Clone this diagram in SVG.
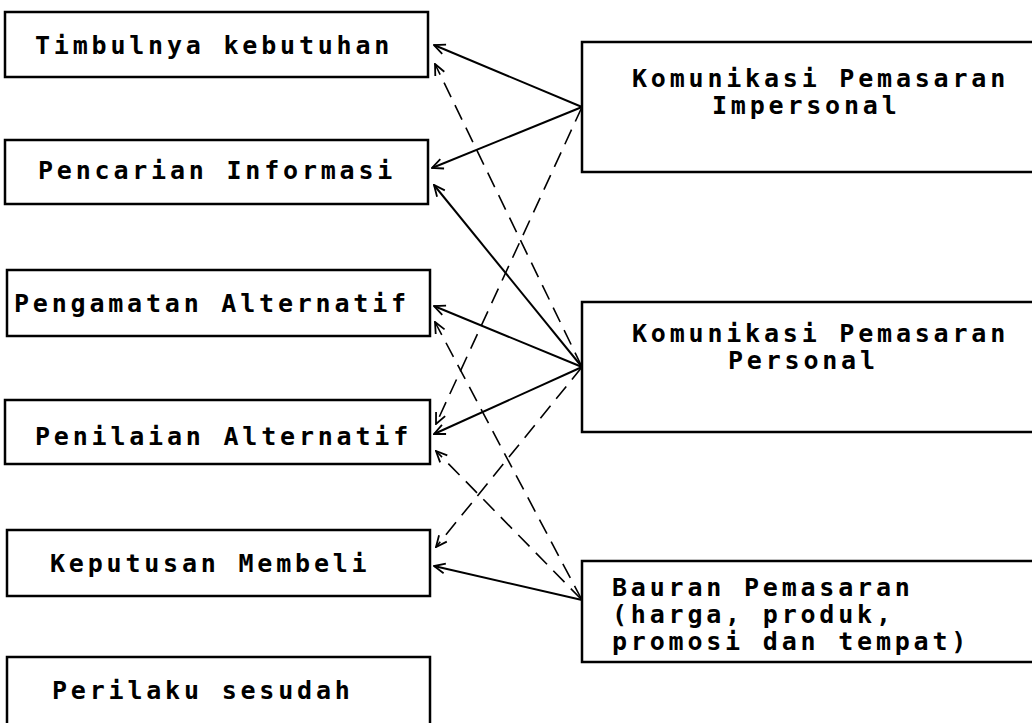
<svg xmlns="http://www.w3.org/2000/svg" width="1032" height="723" viewBox="0 0 1032 723">
<style>
.box{fill:#fff;stroke:#000;stroke-width:2.5}
.t{font-family:"DejaVu Sans Mono","Liberation Mono",monospace;font-size:25px;font-weight:bold;letter-spacing:3.8px;fill:#000}
.s{fill:none;stroke:#000;stroke-width:2}
.d{fill:none;stroke:#000;stroke-width:1.6;stroke-dasharray:16 9}
</style>
<defs>
<marker id="ah" markerUnits="userSpaceOnUse" markerWidth="14" markerHeight="14" viewBox="0 0 14 14" refX="13" refY="7" orient="auto">
<path d="M2,2 L13,7 L2,12" fill="none" stroke="#000" stroke-width="1.8"/>
</marker>
</defs>
<rect width="1032" height="723" fill="#fff"/>
<g id="n1"><rect class="box" x="5" y="12" width="423" height="65"/><text class="t" x="35" y="54">Timbulnya kebutuhan</text></g>
<g id="n2"><rect class="box" x="5" y="140" width="423" height="64"/><text class="t" x="38" y="179">Pencarian Informasi</text></g>
<g id="n3"><rect class="box" x="7" y="270" width="423" height="66"/><text class="t" x="14" y="312">Pengamatan Alternatif</text></g>
<g id="n4"><rect class="box" x="5" y="400" width="425" height="64"/><text class="t" x="35" y="445">Penilaian Alternatif</text></g>
<g id="n5"><rect class="box" x="7" y="530" width="423" height="66"/><text class="t" x="50" y="572">Keputusan Membeli</text></g>
<g id="n6"><rect class="box" x="7" y="657" width="423" height="90"/><text class="t" x="52" y="699">Perilaku sesudah</text></g>
<g id="r1"><rect class="box" x="582" y="42" width="470" height="130"/><text class="t" x="632" y="87">Komunikasi Pemasaran</text><text class="t" x="712" y="114">Impersonal</text></g>
<g id="r2"><rect class="box" x="582" y="302" width="470" height="130"/><text class="t" x="632" y="342">Komunikasi Pemasaran</text><text class="t" x="728" y="369">Personal</text></g>
<g id="r3"><rect class="box" x="582" y="561" width="470" height="101"/><text class="t" x="612" y="596">Bauran Pemasaran</text><text class="t" x="612" y="623">(harga, produk,</text><text class="t" x="612" y="650">promosi dan tempat)</text></g>
<g id="connectors">
<line class="s" x1="582" y1="107" x2="434" y2="45" marker-end="url(#ah)"/>
<line class="s" x1="582" y1="107" x2="432" y2="168" marker-end="url(#ah)"/>
<line class="s" x1="582" y1="367" x2="434" y2="185" marker-end="url(#ah)"/>
<line class="s" x1="582" y1="367" x2="434" y2="306" marker-end="url(#ah)"/>
<line class="s" x1="582" y1="367" x2="434" y2="434" marker-end="url(#ah)"/>
<line class="s" x1="582" y1="600" x2="434" y2="566" marker-end="url(#ah)"/>
<line class="d" x1="582" y1="367" x2="435" y2="64" marker-end="url(#ah)"/>
<line class="d" x1="582" y1="107" x2="436" y2="424" marker-end="url(#ah)"/>
<line class="d" x1="582" y1="600" x2="435" y2="322" marker-end="url(#ah)"/>
<line class="d" x1="582" y1="600" x2="436" y2="451" marker-end="url(#ah)"/>
<line class="d" x1="582" y1="367" x2="436" y2="547" marker-end="url(#ah)"/>
</g>
</svg>
